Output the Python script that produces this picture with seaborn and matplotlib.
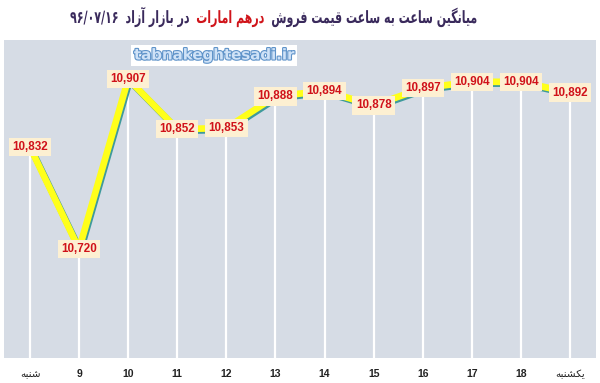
import matplotlib
matplotlib.use("Agg")
import matplotlib.pyplot as plt
import matplotlib.patheffects as pe
from matplotlib.transforms import Affine2D
import seaborn as sns
import pandas as pd

categories = ["شنبه", "9", "10", "11", "12", "13", "14", "15", "16", "17", "18", "یکشنبه"]
values = [10832, 10720, 10907, 10852, 10853, 10888, 10894, 10878, 10897, 10904, 10904, 10892]

title_main = "میانگین ساعت به ساعت قیمت فروش"
title_red = "درهم امارات"
title_rest = "در بازار آزاد"
title_date = "۹۶/۰۷/۱۶"
watermark = "tabnakeghtesadi.ir"

# --- minimal Persian shaping (contextual forms + visual order) ---
FORMS = {
    '\u0627': ('\uFE8D', '\uFE8E', None, None),
    '\u0622': ('\uFE81', '\uFE82', None, None),
    '\u0628': ('\uFE8F', '\uFE90', '\uFE91', '\uFE92'),
    '\u067E': ('\uFB56', '\uFB57', '\uFB58', '\uFB59'),
    '\u062A': ('\uFE95', '\uFE96', '\uFE97', '\uFE98'),
    '\u062B': ('\uFE99', '\uFE9A', '\uFE9B', '\uFE9C'),
    '\u062C': ('\uFE9D', '\uFE9E', '\uFE9F', '\uFEA0'),
    '\u0686': ('\uFB7A', '\uFB7B', '\uFB7C', '\uFB7D'),
    '\u062D': ('\uFEA1', '\uFEA2', '\uFEA3', '\uFEA4'),
    '\u062E': ('\uFEA5', '\uFEA6', '\uFEA7', '\uFEA8'),
    '\u062F': ('\uFEA9', '\uFEAA', None, None),
    '\u0630': ('\uFEAB', '\uFEAC', None, None),
    '\u0631': ('\uFEAD', '\uFEAE', None, None),
    '\u0632': ('\uFEAF', '\uFEB0', None, None),
    '\u0698': ('\uFB8A', '\uFB8B', None, None),
    '\u0633': ('\uFEB1', '\uFEB2', '\uFEB3', '\uFEB4'),
    '\u0634': ('\uFEB5', '\uFEB6', '\uFEB7', '\uFEB8'),
    '\u0639': ('\uFEC9', '\uFECA', '\uFECB', '\uFECC'),
    '\u063A': ('\uFECD', '\uFECE', '\uFECF', '\uFED0'),
    '\u0641': ('\uFED1', '\uFED2', '\uFED3', '\uFED4'),
    '\u0642': ('\uFED5', '\uFED6', '\uFED7', '\uFED8'),
    '\u06A9': ('\uFB8E', '\uFB8F', '\uFB90', '\uFB91'),
    '\u06AF': ('\uFB92', '\uFB93', '\uFB94', '\uFB95'),
    '\u0644': ('\uFEDD', '\uFEDE', '\uFEDF', '\uFEE0'),
    '\u0645': ('\uFEE1', '\uFEE2', '\uFEE3', '\uFEE4'),
    '\u0646': ('\uFEE5', '\uFEE6', '\uFEE7', '\uFEE8'),
    '\u0647': ('\uFEE9', '\uFEEA', '\uFEEB', '\uFEEC'),
    '\u0648': ('\uFEED', '\uFEEE', None, None),
    '\u06CC': ('\uFBFC', '\uFBFD', '\uFBFE', '\uFBFF'),
}


def shape(s):
    out = []
    for i, c in enumerate(s):
        if c not in FORMS:
            out.append(c)
            continue
        f = FORMS[c]
        prev = s[i - 1] if i > 0 else None
        nxt = s[i + 1] if i + 1 < len(s) else None
        jp = prev in FORMS and FORMS[prev][2] is not None
        jn = f[2] is not None and nxt in FORMS
        if jp and jn:
            out.append(f[3])
        elif jp:
            out.append(f[1])
        elif jn:
            out.append(f[2])
        else:
            out.append(f[0])
    return "".join(out)[::-1]


def disp(s):
    return shape(s) if any(ch in FORMS for ch in s) else s


class VStretch(pe.AbstractPathEffect):
    """Stretch drawn text vertically about a fixed display y."""

    def __init__(self, y0, sy):
        super().__init__()
        self.y0, self.sy = y0, sy

    def draw_path(self, renderer, gc, tpath, affine, rgbFace=None):
        st = Affine2D().translate(0, -self.y0).scale(1, self.sy).translate(0, self.y0)
        renderer.draw_path(gc, tpath, affine + st, rgbFace)


df = pd.DataFrame({"x": list(range(len(categories))), "v": values})

W, H = 600, 383
fig = plt.figure(figsize=(W / 100, H / 100), dpi=100)
fig.patch.set_facecolor("white")
ax = fig.add_axes([4 / W, 1 - 358 / H, 592 / W, 318 / H])
ax.set_facecolor("#d6dce5")

# drop lines
ax.vlines(df["x"], 10600, df["v"], color="white", lw=1.6, zorder=1)

sns.lineplot(data=df, x="x", y="v", ax=ax, color="#ffff1a", lw=4.8, zorder=3,
             path_effects=[pe.SimpleLineShadow(offset=(1.0, -1.3), shadow_color="#3f9a9c",
                                               alpha=1.0, rho=1.0), pe.Normal()])

for xi, v in zip(df["x"], df["v"]):
    ax.text(xi, v, f"{v:,}", ha="center", va="center", fontsize=8.4, fontweight="bold",
            family="Liberation Sans", color="#d0121a", zorder=5,
            bbox=dict(boxstyle="square,pad=0.28", fc="#fdf0d2", ec="none"))

ax.set_xlim(-0.53, 11.53)
ax.set_ylim(10600, 10950)
ax.set_yticks([])
ax.set_xticks(df["x"])
ax.set_xticklabels([disp(c) for c in categories])
for lab, c in zip(ax.get_xticklabels(), categories):
    lab.set_fontsize(7.5)
    lab.set_color("#222222")
    if c.isdigit():
        lab.set_fontweight("bold")
        lab.set_family("Liberation Sans")
    else:
        lab.set_family("DejaVu Sans")
ax.tick_params(axis="x", length=0, pad=8)
ax.set_xlabel("")
ax.set_ylabel("")
for s in ax.spines.values():
    s.set_visible(False)

# title pieces (visual left-to-right), sized to span 70..477 px, stretched vertically
tcol = "#3a2a5c"
rcol = "#d0141a"
pieces = [(title_date, tcol), (disp(title_rest), tcol),
          (disp(title_red), rcol), (disp(title_main), tcol)]
renderer = fig.canvas.get_renderer()
base_fs = 12.2
base_y = 23  # common baseline, px from top
texts = []
for txt, col in pieces:
    t = fig.text(0.5, 1 - base_y / H, txt, color=col, ha="center", va="baseline",
                 fontsize=base_fs, fontweight="bold", family="DejaVu Sans")
    texts.append(t)
left, right, gap = 70, 477, 7
nat = sum(t.get_window_extent(renderer).width for t in texts)
sx = (right - left - gap * (len(pieces) - 1)) / nat
for t in texts:
    t.set_fontsize(base_fs * sx)
widths = [t.get_window_extent(renderer).width for t in texts]
adj = (right - left - gap * (len(pieces) - 1)) / sum(widths)
x = left
for t, w in zip(texts, widths):
    w = w * adj
    cx = x + w / 2
    t.set_x(cx / W)
    t.set_path_effects([VStretch(H - base_y, 1 / sx)])
    x += w + gap

# watermark
fig.text(214 / W, 1 - 55 / H, watermark, ha="center", va="center", fontsize=10.8,
         fontweight="bold", family="DejaVu Sans", color="#cfe2f7",
         path_effects=[pe.withStroke(linewidth=1.6, foreground="#5f93c9")],
         bbox=dict(boxstyle="square,pad=0.2", fc="white", ec="none"))

fig.savefig("out.png", dpi=100, facecolor="white")
